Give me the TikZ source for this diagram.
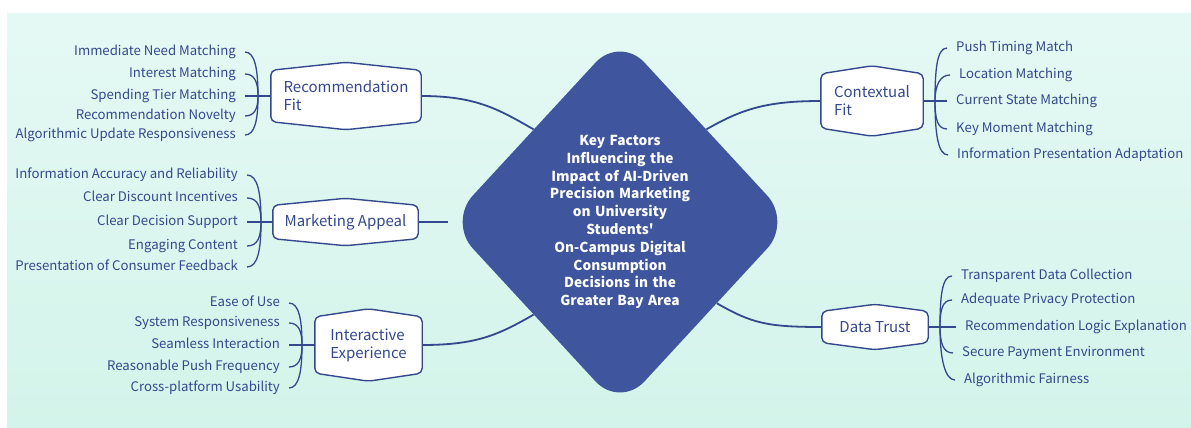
\documentclass[tikz,border=0pt]{standalone}
\usepackage{fontspec}
\setmainfont{Noto Sans CJK SC}
\usetikzlibrary{shapes.geometric,backgrounds,calc}

\definecolor{mintTop}{RGB}{229,249,244}
\definecolor{mintBottom}{RGB}{211,244,234}
\definecolor{hub}{RGB}{63,86,158}
\definecolor{ink}{RGB}{52,72,142}

\tikzset{
  hubnode/.style={diamond, fill=hub, draw=none, rounded corners=36pt,
    minimum width=338pt, minimum height=372pt, inner sep=0pt,
    text width=170pt, align=center, text=white,
    font=\bfseries\fontsize{13.7}{17.8}\selectfont},
  factor/.style={inner sep=0pt, align=left, text=ink,
    font=\fontsize{15}{18}\selectfont},
  frame/.style={draw=ink, line width=1.4pt, fill=white,
    rounded corners=5pt, line join=round},
  leafL/.style={anchor=east, inner xsep=9pt, inner ysep=0pt,
    text height=10pt, text depth=3pt, text=ink,
    font=\fontsize{13.2}{16}\selectfont},
  leafR/.style={leafL, anchor=west},
  trunk/.style={draw=ink, line width=1.8pt},
  twig/.style={draw=ink, line width=1.3pt},
}

% hexagonal outline around a factor node, #2 = height of the top/bottom peak
\newcommand\drawframe[2]{%
  \draw[frame] ([yshift=-#2]#1.north west) -- (#1.north) -- ([yshift=-#2]#1.north east)
    -- ([yshift=#2]#1.south east) -- (#1.south) -- ([yshift=#2]#1.south west) -- cycle;}

\begin{document}
\begin{tikzpicture}[x=1pt,y=-1pt]
\useasboundingbox (0,0) rectangle (1191,428);

% central topic
\node[hubnode] (hub) at (620,222) {Key Factors\\ Influencing the\\ Impact of AI-Driven\\
  Precision Marketing\\ on University\\ Students\textquotesingle\\ On-Campus Digital\\
  Consumption\\ Decisions in the\\ Greater Bay Area};

% factor boxes
\node[factor, minimum width=150pt, minimum height=67pt] (rf) at (346,96) {Recommendation\\Fit};
\node[factor, minimum width=145pt, minimum height=47pt] (ma) at (345.5,222) {Marketing Appeal};
\node[factor, minimum width=107pt, minimum height=72pt] (ie) at (368.5,345) {Interactive\\Experience};
\node[factor, minimum width=102pt, minimum height=70pt] (cf) at (872,101) {Contextual\\Fit};
\node[factor, minimum width=106pt, minimum height=45pt] (dt) at (875,327) {Data Trust};

% left-hand items
\node[leafL] (rf1) at (245,52)  {Immediate Need Matching};
\node[leafL] (rf2) at (245,74)  {Interest Matching};
\node[leafL] (rf3) at (245,96)  {Spending Tier Matching};
\node[leafL] (rf4) at (245,116) {Recommendation Novelty};
\node[leafL] (rf5) at (245,135) {Algorithmic Update Responsiveness};

\node[leafL] (ma1) at (247,175) {Information Accuracy and Reliability};
\node[leafL] (ma2) at (247,198) {Clear Discount Incentives};
\node[leafL] (ma3) at (247,222) {Clear Decision Support};
\node[leafL] (ma4) at (247,246) {Engaging Content};
\node[leafL] (ma5) at (247,267) {Presentation of Consumer Feedback};

\node[leafL] (ie1) at (289,303) {Ease of Use};
\node[leafL] (ie2) at (289,323) {System Responsiveness};
\node[leafL] (ie3) at (289,345) {Seamless Interaction};
\node[leafL] (ie4) at (289,367) {Reasonable Push Frequency};
\node[leafL] (ie5) at (289,388) {Cross-platform Usability};

% right-hand items
\node[leafR] (cf1) at (947,48)  {Push Timing Match};
\node[leafR] (cf2) at (950,75)  {Location Matching};
\node[leafR] (cf3) at (947,101) {Current State Matching};
\node[leafR] (cf4) at (947,129) {Key Moment Matching};
\node[leafR] (cf5) at (948,155) {Information Presentation Adaptation};

\node[leafR] (dt1) at (952,276) {Transparent Data Collection};
\node[leafR] (dt2) at (952,300) {Adequate Privacy Protection};
\node[leafR] (dt3) at (956,327) {Recommendation Logic Explanation};
\node[leafR] (dt4) at (953,353) {Secure Payment Environment};
\node[leafR] (dt5) at (955,380) {Algorithmic Fairness};

\begin{scope}[on background layer]
  \fill[white] (0,0) rectangle (1191,428);
  \shade[top color=mintTop, bottom color=mintBottom] (7,14) rectangle (1191,428);

  % factors to the central topic
  \draw[trunk] (rf.east) .. controls +(55,0) and +(-35,-20) .. (hub.133);
  \draw[trunk] (ma.east) -- (hub.west);
  \draw[trunk] (ie.east) .. controls +(55,0) and +(-35,20) .. (hub.227);
  \draw[trunk] (hub.47) .. controls +(35,-20) and +(-55,0) .. (cf.west);
  \draw[trunk] (hub.-40) .. controls +(35,20) and +(-55,0) .. (dt.west);

  % brackets of items
  \foreach \i/\yy in {1/52,2/74,4/116,5/135}
    \draw[twig] (rf\i.east) .. controls +(10,0) and (258,{\yy+0.4*(96-\yy)}) .. (258,96);
  \draw[twig] (rf3.east) -- (rf.west);

  \foreach \i/\yy in {1/175,2/198,4/246,5/267}
    \draw[twig] (ma\i.east) .. controls +(11,0) and (261,{\yy+0.4*(222-\yy)}) .. (261,222);
  \draw[twig] (ma3.east) -- (ma.west);

  \foreach \i/\yy in {1/303,2/323,4/367,5/388}
    \draw[twig] (ie\i.east) .. controls +(10,0) and (302,{\yy+0.4*(345-\yy)}) .. (302,345);
  \draw[twig] (ie3.east) -- (ie.west);

  \foreach \i/\yy in {1/48,2/75,4/129,5/155}
    \draw[twig] (cf\i.west) .. controls +(-10,0) and (935,{\yy+0.4*(101-\yy)}) .. (935,101);
  \draw[twig] (cf3.west) -- (cf.east);

  \foreach \i/\yy in {1/276,2/300,4/353,5/380}
    \draw[twig] (dt\i.west) .. controls +(-10,0) and (940,{\yy+0.4*(327-\yy)}) .. (940,327);
  \draw[twig] (dt3.west) -- (dt.east);

  % box outlines
  \drawframe{rf}{8pt}
  \drawframe{ma}{7pt}
  \drawframe{ie}{8pt}
  \drawframe{cf}{8pt}
  \drawframe{dt}{7pt}
\end{scope}
\end{tikzpicture}
\end{document}
